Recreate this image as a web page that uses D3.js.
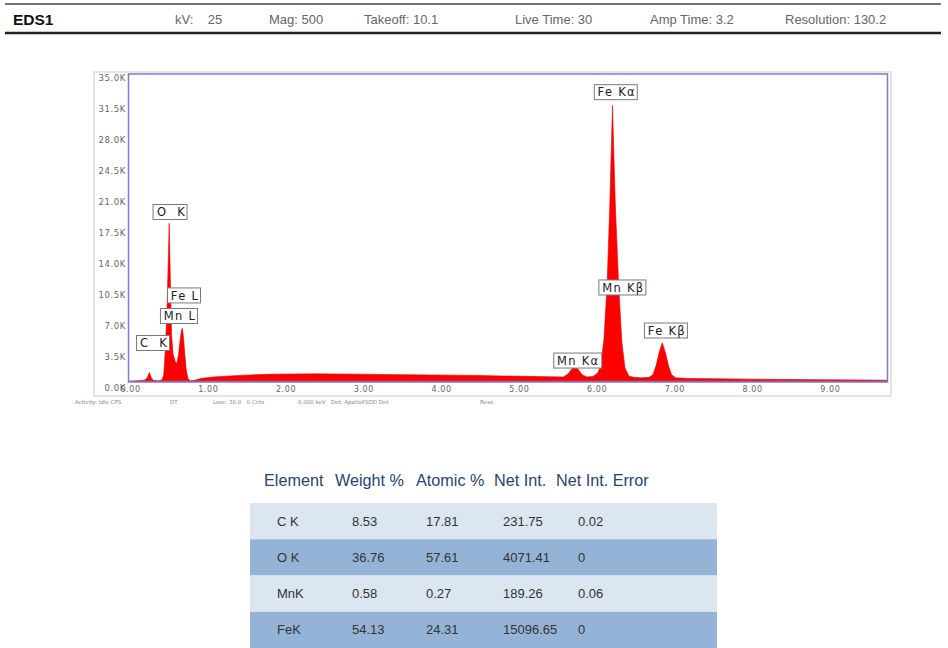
<!DOCTYPE html>
<html>
<head>
<meta charset="utf-8">
<script src="https://cdn.jsdelivr.net/npm/d3@7"></script>
<style>
  html, body { margin: 0; padding: 0; background: #fff; }
  svg { display: block; }
  text { white-space: pre; }
</style>
</head>
<body>
<svg id="page" width="948" height="648"></svg>
<script>
// ---- acquisition header ----
const sampleName = "EDS1";
const headerFields = ["kV:    25", "Mag: 500", "Takeoff: 10.1", "Live Time: 30", "Amp Time: 3.2", "Resolution: 130.2"];

// ---- EDS spectrum: energy (keV) and counts ----
const energy = [
  0.00, 0.08, 0.16, 0.22, 0.25, 0.275, 0.30, 0.33, 0.40, 0.44,
  0.46, 0.48, 0.50, 0.515, 0.53, 0.545, 0.56, 0.58, 0.61, 0.63,
  0.65, 0.67, 0.69, 0.70, 0.715, 0.73, 0.75, 0.77, 0.80, 0.85,
  0.95, 1.10, 1.30, 1.50, 1.80, 2.10, 2.40, 2.70, 3.00, 3.30,
  3.60, 3.90, 4.20, 4.50, 4.80, 5.10, 5.40, 5.60, 5.66, 5.72,
  5.78, 5.84, 5.90, 5.98, 6.04, 6.08, 6.12, 6.16, 6.195, 6.23,
  6.265, 6.31, 6.35, 6.39, 6.44, 6.50, 6.60, 6.70, 6.75, 6.79,
  6.83, 6.87, 6.91, 6.95, 6.99, 7.04, 7.20, 7.60, 8.00, 8.50,
  9.00, 9.50, 9.76
];
const counts = [
  600, 750, 850, 900, 1200, 1750, 1150, 850, 800, 950,
  1500, 4300, 8500, 13500, 18600, 12000, 6000, 3800, 2900, 2800,
  3800, 5400, 6600, 6750, 5600, 3800, 2000, 1100, 800, 850,
  1100, 1250, 1350, 1450, 1550, 1580, 1600, 1580, 1560, 1520,
  1500, 1470, 1450, 1420, 1360, 1320, 1280, 1250, 1600, 2300,
  2200, 1500, 1250, 1300, 1700, 2500, 5500, 11500, 20500, 31900,
  21000, 11500, 5200, 2300, 1350, 1200, 1150, 1200, 1500, 2500,
  4000, 5100, 4000, 2500, 1500, 1150, 1080, 1040, 1000, 960,
  930, 900, 880
];

// axis ticks
const xTicks = [0, 1, 2, 3, 4, 5, 6, 7, 8, 9];
const yTicks = [0, 3500, 7000, 10500, 14000, 17500, 21000, 24500, 28000, 31500, 35000];

// emission-line markers: name, energy (keV), marker level (counts)
const lineNames  = ["C  K", "O  K", "Mn L", "Fe L", "Mn K\u03b1", "Mn K\u03b2", "Fe K\u03b1", "Fe K\u03b2"];
const lineEnergy = [0.334, 0.56, 0.668, 0.733, 5.79, 6.37, 6.285, 6.93];
const lineLevel  = [5080, 19870, 8130, 10450, 3100, 11350, 33400, 6490];

// status bar under the spectrum
const statusItems = ["Activity: Idle CPS", "DT", "Lsec: 30.0   0 Cnts", "0.000 keV   Det: ApolloXSDD Det", "Reso"];

// ---- quantification table ----
const tableColumns = ["Element", "Weight %", "Atomic %", "Net Int.", "Net Int. Error"];
const elements  = ["C K", "O K", "MnK", "FeK"];
const weightPct = [8.53, 36.76, 0.58, 54.13];
const atomicPct = [17.81, 57.61, 0.27, 24.31];
const netInt    = [231.75, 4071.41, 189.26, 15096.65];
const netIntErr = [0.02, 0, 0.06, 0];

// ================= drawing =================
const svg = d3.select("#page");

// header strip
const head = svg.append("g");
head.append("line").attr("x1", 5).attr("x2", 941).attr("y1", 4).attr("y2", 4)
  .attr("stroke", "#444").attr("stroke-width", 1.5);
head.append("line").attr("x1", 5).attr("x2", 941).attr("y1", 33).attr("y2", 33)
  .attr("stroke", "#222").attr("stroke-width", 2.5);
head.append("text").attr("x", 13).attr("y", 25)
  .attr("font-family", "Liberation Sans, Arial, sans-serif").attr("font-weight", "bold")
  .attr("font-size", 15.5).attr("fill", "#111").text(sampleName);
const headerX = [175, 269, 364, 515, 650, 785];
head.selectAll("text.field").data(headerFields).join("text")
  .attr("class", "field")
  .attr("x", (d, i) => headerX[i]).attr("y", 24)
  .attr("font-family", "Liberation Sans, Arial, sans-serif")
  .attr("font-size", 13).attr("fill", "#666").text(d => d);

// spectrum panel
const plot = { left: 128, right: 887, top: 74, bottom: 382 };
const x = d3.scaleLinear().domain([0, 9.76]).range([plot.left, plot.right]);
const y = d3.scaleLinear().domain([0, 35000]).range([388, 78]);

svg.append("rect").attr("x", 94).attr("y", 72).attr("width", 797).attr("height", 324)
  .attr("fill", "none").attr("stroke", "#c9c9c9").attr("stroke-width", 1);

svg.append("defs").append("clipPath").attr("id", "plotClip")
  .append("rect").attr("x", plot.left).attr("y", plot.top)
  .attr("width", plot.right - plot.left).attr("height", plot.bottom - plot.top);

const spectrum = energy.map((e, i) => ({ e, c: counts[i] }));
const area = d3.area()
  .x(d => x(d.e))
  .y0(y(0))
  .y1(d => y(d.c));

svg.append("g").attr("clip-path", "url(#plotClip)")
  .append("path").datum(spectrum)
  .attr("d", area)
  .attr("fill", "#ff0000")
  .attr("stroke", "#e00000").attr("stroke-width", 0.6);

// baseline tint along the bottom of the panel
svg.append("line").attr("x1", plot.left).attr("x2", plot.right)
  .attr("y1", plot.bottom - 1).attr("y2", plot.bottom - 1)
  .attr("stroke", "#c04060").attr("stroke-width", 1);

// panel frame
svg.append("rect").attr("x", plot.left + 0.5).attr("y", plot.top)
  .attr("width", plot.right - plot.left).attr("height", plot.bottom - plot.top)
  .attr("fill", "none").attr("stroke", "#7b7bd6").attr("stroke-width", 1.5);

// y axis labels
const yAxis = d3.axisLeft(y).tickValues(yTicks).tickSize(0).tickPadding(2)
  .tickFormat(d => (d / 1000).toFixed(1) + "K");
const gy = svg.append("g").attr("transform", `translate(${plot.left},0)`).call(yAxis);
gy.select(".domain").remove();
gy.selectAll("text").attr("font-family", "DejaVu Sans, sans-serif")
  .attr("font-size", 8.5).attr("fill", "#666").attr("letter-spacing", 0.6);

// x axis labels
const xAxis = d3.axisBottom(x).tickValues(xTicks).tickSize(0).tickPadding(0)
  .tickFormat(d3.format(".2f"));
const gx = svg.append("g").attr("transform", `translate(2,${y(0) - 2})`).call(xAxis);
gx.select(".domain").remove();
gx.selectAll("text").attr("font-family", "DejaVu Sans, sans-serif")
  .attr("font-size", 8).attr("fill", "#666").attr("letter-spacing", 0.6);

// emission-line markers
const markers = svg.append("g").selectAll("g").data(lineNames).join("g")
  .attr("transform", (d, i) => `translate(${x(lineEnergy[i])},${y(lineLevel[i])})`);
markers.append("rect").attr("class", "box").attr("fill", "#fff")
  .attr("stroke", "#7a7a7a").attr("stroke-width", 1);
markers.append("text")
  .attr("text-anchor", "middle").attr("dy", "0.36em")
  .attr("font-family", "DejaVu Sans, sans-serif").attr("font-size", 11.5)
  .attr("letter-spacing", 1.3).attr("fill", "#222")
  .text(d => d);
markers.each(function () {
  const g = d3.select(this);
  const bb = g.select("text").node().getBBox();
  g.select("rect.box")
    .attr("x", Math.round(bb.x) - 3.5).attr("y", -7.5)
    .attr("width", Math.round(bb.width) + 5).attr("height", 15);
});

// status bar
const statusX = [75, 170, 213, 298, 480];
svg.append("g").selectAll("text").data(statusItems).join("text")
  .attr("x", (d, i) => statusX[i]).attr("y", 404)
  .attr("font-family", "DejaVu Sans, sans-serif").attr("font-size", 5.5)
  .attr("fill", "#888").text(d => d);

// quantification table
const tbl = svg.append("g");
const headerColX = [264, 335, 416, 494, 556];
tbl.selectAll("text.hdr").data(tableColumns).join("text")
  .attr("class", "hdr")
  .attr("x", (d, i) => headerColX[i]).attr("y", 486)
  .attr("font-family", "Liberation Sans, Arial, sans-serif")
  .attr("font-size", 16.2).attr("fill", "#274472").text(d => d);

const rowY = d3.scaleBand().domain(elements).range([503, 648]).padding(0);
const rows = elements.map((el, i) => [el, weightPct[i], atomicPct[i], netInt[i], netIntErr[i]]);
const cellX = [277, 352, 426, 503, 578];
const rowG = tbl.selectAll("g.row").data(rows).join("g").attr("class", "row")
  .attr("transform", (d, i) => `translate(0,${rowY(elements[i])})`);
rowG.append("rect").attr("x", 250).attr("width", 467).attr("height", rowY.bandwidth())
  .attr("fill", (d, i) => i % 2 === 0 ? "#dce6f1" : "#95b3d7");
rowG.selectAll("text").data(d => d).join("text")
  .attr("x", (d, j) => cellX[j]).attr("y", rowY.bandwidth() / 2 + 4.5)
  .attr("font-family", "Liberation Sans, Arial, sans-serif")
  .attr("font-size", 13).attr("fill", "#333").text(d => String(d));
</script>
</body>
</html>
